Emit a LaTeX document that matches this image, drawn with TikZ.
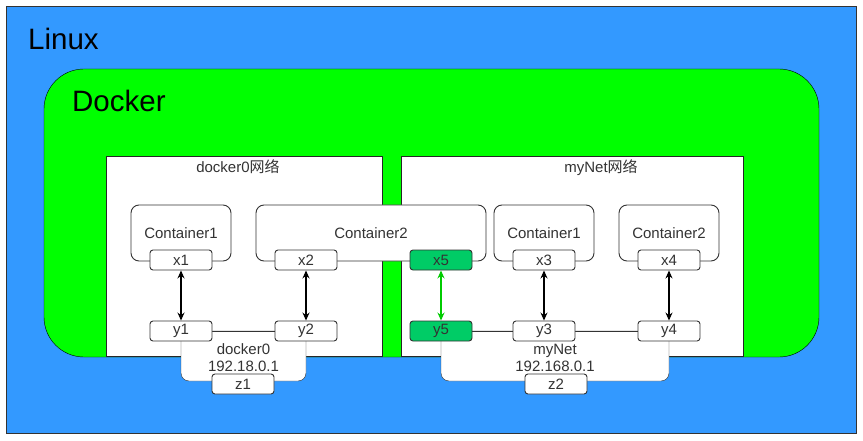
\documentclass[tikz,border=0pt]{standalone}
\usepackage{fontspec}
\setmainfont{Liberation Sans}
\newfontfamily\cjk{Noto Sans CJK SC}
\usetikzlibrary{positioning,arrows.meta}
\definecolor{linuxblue}{RGB}{51,153,255}
\definecolor{dockergreen}{RGB}{0,255,0}
\definecolor{portgreen}{RGB}{0,204,102}
\definecolor{arrowgreen}{RGB}{0,204,0}
\definecolor{txtgray}{RGB}{51,51,51}
\pgfdeclarelayer{back}
\pgfsetlayers{back,main}

\begin{document}
\begin{tikzpicture}[x=1pt, y=-1pt, line width=0.9pt,
font=\fontsize{15}{17}\selectfont,
title/.style={font=\fontsize{29.5}{34}\selectfont, anchor=base west, inner sep=0pt},
netbox/.style={draw=black!85, fill=white, anchor=north west, minimum height=200, inner sep=0pt},
netlbl/.style={text=txtgray, anchor=base, inner sep=0pt},
container/.style={draw=black!80, fill=white, rounded corners=8pt, minimum width=100, minimum height=56, text=txtgray, inner sep=0pt},
port/.style={draw=black!80, fill=white, rounded corners=3pt, minimum width=62, minimum height=20, inner sep=0pt, text=txtgray},
newport/.style={port, fill=portgreen},
bridge/.style={draw=black!80, fill=white, rounded corners=8pt},
brlbl/.style={text=txtgray, align=center, font=\fontsize{15}{17}\selectfont, inner sep=0pt},
link/.style={draw=black!80},
arr/.style={{Stealth[length=8pt,width=7pt]}-{Stealth[length=8pt,width=7pt]}, line width=1.3pt},
newarr/.style={arr, draw=arrowgreen}
]
\useasboundingbox (0,0) rectangle (863,441);

% containers
\node[container] (c1) at (181,233) {Container1};
\node[container, minimum width=230] (c2) at (371,233) {Container2};
\node[container] (c3) at (544,233) {Container1};
\node[container] (c4) at (669,233) {Container2};

% container side ports
\node[port] (x1) at (181,260) {x1};
\node[port] (x2) at (306,260) {x2};
\node[newport] (x5) at (441,260) {x5};
\node[port] (x3) at (544,260) {x3};
\node[port] (x4) at (669,260) {x4};

% bridge side ports
\node[port] (y1) at (181,331) {y1};
\node[port] (y2) at (306,331) {y2};
\node[newport] (y5) at (441,331) {y5};
\node[port] (y3) at (544,331) {y3};
\node[port] (y4) at (669,331) {y4};

\node[port] (z1) at (243,384) {z1};
\node[port] (z2) at (556,384) {z2};

\node[brlbl] (br0) at (243.5,357.5) {docker0\\192.18.0.1};
\node[brlbl] (br1) at (555,357.5) {myNet\\192.168.0.1};

\draw[arr] (x1) -- (y1);
\draw[arr] (x2) -- (y2);
\draw[newarr] (x5) -- (y5);
\draw[arr] (x3) -- (y3);
\draw[arr] (x4) -- (y4);

\begin{pgfonlayer}{back}
\draw[draw=black!80, fill=linuxblue] (6,6) rectangle (856,433);
\node[title] (linux) at (28,50) {Linux};
\draw[draw=black, fill=dockergreen, rounded corners=40pt] (44,69) rectangle (819,357);
\node[title] (docker) at (72,112) {Docker};
\node[netbox, minimum width=276] (net0) at (106,156) {};
\node[netbox, minimum width=342] (net1) at (401,156) {};
\node[netlbl] (net0lbl) at (238,173) {docker0{\cjk 网络}};
\node[netlbl] (net1lbl) at (601,173) {myNet{\cjk 网络}};
\draw[bridge] (y1.center) rectangle ([yshift=-50pt]y2.center);
\draw[bridge] (y5.center) rectangle ([yshift=-50pt]y4.center);
\draw[link] (y1) -- (y2);
\draw[link] (y5) -- (y3) -- (y4);
\end{pgfonlayer}
\end{tikzpicture}
\end{document}
